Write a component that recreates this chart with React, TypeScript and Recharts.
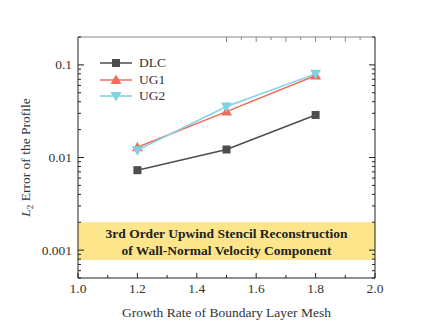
import React from 'react';
import { LineChart, Line, XAxis, YAxis, ReferenceArea } from 'recharts';

const growthRates = [1.2, 1.5, 1.8];
const dlcError = [0.0073, 0.0122, 0.0288];
const ug1Error = [0.0129, 0.0313, 0.0767];
const ug2Error = [0.012, 0.0355, 0.08];

const xTicks = [1.0, 1.1, 1.2, 1.3, 1.4, 1.5, 1.6, 1.7, 1.8, 1.9, 2.0];
const xMajor = [1.0, 1.2, 1.4, 1.6, 1.8, 2.0];
const yTicks = [
  0.0005, 0.0006, 0.0007, 0.0008, 0.0009, 0.001,
  0.002, 0.003, 0.004, 0.005, 0.006, 0.007, 0.008, 0.009, 0.01,
  0.02, 0.03, 0.04, 0.05, 0.06, 0.07, 0.08, 0.09, 0.1, 0.2,
];
const yMajor = [0.001, 0.01, 0.1];
const bandRange = [0.00078, 0.002];
const bandLines = ['3rd Order Upwind Stencil Reconstruction', 'of Wall-Normal Velocity Component'];

const FONT = '"Liberation Serif", "Times New Roman", serif';

const series = [
  { key: 'DLC', color: '#4d4d4d', shape: 'square' },
  { key: 'UG1', color: '#f26c5c', shape: 'up' },
  { key: 'UG2', color: '#7dd3e4', shape: 'down' },
];

const data = growthRates.map((g, i) => ({ g, DLC: dlcError[i], UG1: ug1Error[i], UG2: ug2Error[i] }));

const isMajor = (list: number[], v: number) => list.some((m) => Math.abs(m - v) < 1e-9);

const Marker = ({ cx, cy, shape, color }: any) => {
  if (cx == null || cy == null) return null;
  if (shape === 'square') return <rect x={cx - 4} y={cy - 4} width={8} height={8} fill={color} />;
  if (shape === 'up')
    return <polygon points={`${cx},${cy - 5.5} ${cx - 5.5},${cy + 4} ${cx + 5.5},${cy + 4}`} fill={color} />;
  return <polygon points={`${cx},${cy + 5.5} ${cx - 5.5},${cy - 4} ${cx + 5.5},${cy - 4}`} fill={color} />;
};

const BottomTick = (p: any) => {
  const v = p.payload.value;
  const major = isMajor(xMajor, v);
  return (
    <g>
      <line x1={p.x} x2={p.x} y1={p.y} y2={p.y - (major ? 5 : 3)} stroke="#222" />
      {major && (
        <text x={p.x} y={p.y + 14.5} textAnchor="middle" fontSize={13.5} fontFamily={FONT} fill="#333">
          {v.toFixed(1)}
        </text>
      )}
    </g>
  );
};

const TopTick = (p: any) => {
  const major = isMajor(xMajor, p.payload.value);
  return <line x1={p.x} x2={p.x} y1={p.y} y2={p.y + (major ? 5 : 3)} stroke="#888" />;
};

const LeftTick = (p: any) => {
  const v = p.payload.value;
  const major = isMajor(yMajor, v);
  return (
    <g>
      <line x1={p.x} x2={p.x + (major ? 6 : 3)} y1={p.y} y2={p.y} stroke="#222" />
      {major && (
        <text x={p.x - 6} y={p.y + 4.5} textAnchor="end" fontSize={13.5} fontFamily={FONT} fill="#333">
          {String(v)}
        </text>
      )}
    </g>
  );
};

const RightTick = (p: any) => {
  const major = isMajor(yMajor, p.payload.value);
  return <line x1={p.x} x2={p.x - (major ? 6 : 3)} y1={p.y} y2={p.y} stroke="#222" />;
};

const YLabel = (props: any) => {
  const vb = props.viewBox || {};
  const cx = vb.x + 2;
  const cy = vb.y + vb.height / 2;
  return (
    <text
      x={cx}
      y={cy}
      transform={`rotate(-90 ${cx} ${cy})`}
      textAnchor="middle"
      fontSize={13.5}
      fontFamily={FONT}
      fill="#333"
    >
      <tspan fontStyle="italic">L</tspan>
      <tspan fontSize={9} dy={3}>2</tspan>
      <tspan dy={-3}> Error of the Profile</tspan>
    </text>
  );
};

const BandLabel = (props: any) => {
  const vb = props.viewBox || {};
  const cx = vb.x + vb.width / 2;
  const cy = vb.y + vb.height / 2;
  return (
    <text textAnchor="middle" fontSize={13.5} fontWeight="bold" fontFamily={FONT} fill="#222">
      <tspan x={cx} y={cy - 3}>{bandLines[0]}</tspan>
      <tspan x={cx} y={cy + 13.5}>{bandLines[1]}</tspan>
    </text>
  );
};

const LegendBox = () => (
  <div style={{ position: 'absolute', left: 100, top: 55, fontFamily: FONT, fontSize: 13.5, color: '#333' }}>
    {series.map((s) => (
      <div key={s.key} style={{ display: 'flex', alignItems: 'center', height: 16.5 }}>
        <svg width={32} height={14} style={{ marginRight: 7 }}>
          <line x1={0} x2={32} y1={7} y2={7} stroke={s.color} strokeWidth={1.5} />
          <Marker cx={16} cy={7} shape={s.shape} color={s.color} />
        </svg>
        <span>{s.key}</span>
      </div>
    ))}
  </div>
);

export default function App() {
  return (
    <div style={{ position: 'absolute', left: 0, top: 0, width: 436, height: 334, background: '#fff' }}>
      <LineChart width={436} height={334} data={data} margin={{ top: 32, right: 51, bottom: 16, left: 28 }}>
        <XAxis
          dataKey="g"
          type="number"
          domain={[1, 2]}
          ticks={xTicks}
          interval={0}
          tickSize={0}
          tickMargin={0}
          tick={BottomTick}
          height={40}
          stroke="#222"
          label={{ value: 'Growth Rate of Boundary Layer Mesh', position: 'insideBottom', offset: 1, fontSize: 13.5, fontFamily: FONT, fill: '#333' }}
        />
        <XAxis
          xAxisId="top"
          orientation="top"
          type="number"
          domain={[1, 2]}
          ticks={xTicks}
          interval={0}
          tickSize={0}
          tickMargin={0}
          tick={TopTick}
          height={5}
          stroke="#888"
        />
        <YAxis
          scale="log"
          type="number"
          domain={[0.0005, 0.2]}
          allowDataOverflow
          ticks={yTicks}
          interval={0}
          tickSize={0}
          tickMargin={0}
          tick={LeftTick}
          width={50}
          stroke="#222"
          label={{ content: YLabel }}
        />
        <YAxis
          yAxisId="right"
          orientation="right"
          scale="log"
          type="number"
          domain={[0.0005, 0.2]}
          allowDataOverflow
          ticks={yTicks}
          interval={0}
          tickSize={0}
          tickMargin={0}
          tick={RightTick}
          width={10}
          stroke="#222"
        />
        <ReferenceArea
          x1={1}
          x2={2}
          y1={bandRange[0]}
          y2={bandRange[1]}
          fill="#fce58a"
          fillOpacity={1}
          stroke="none"
          label={{ content: BandLabel }}
        />
        {series.map((s) => (
          <Line
            key={s.key}
            dataKey={s.key}
            stroke={s.color}
            strokeWidth={1.5}
            isAnimationActive={false}
            dot={(p: any) => <Marker key={`${s.key}-${p.index}`} cx={p.cx} cy={p.cy} shape={s.shape} color={s.color} />}
            activeDot={false}
          />
        ))}
      </LineChart>
      <LegendBox />
    </div>
  );
}
